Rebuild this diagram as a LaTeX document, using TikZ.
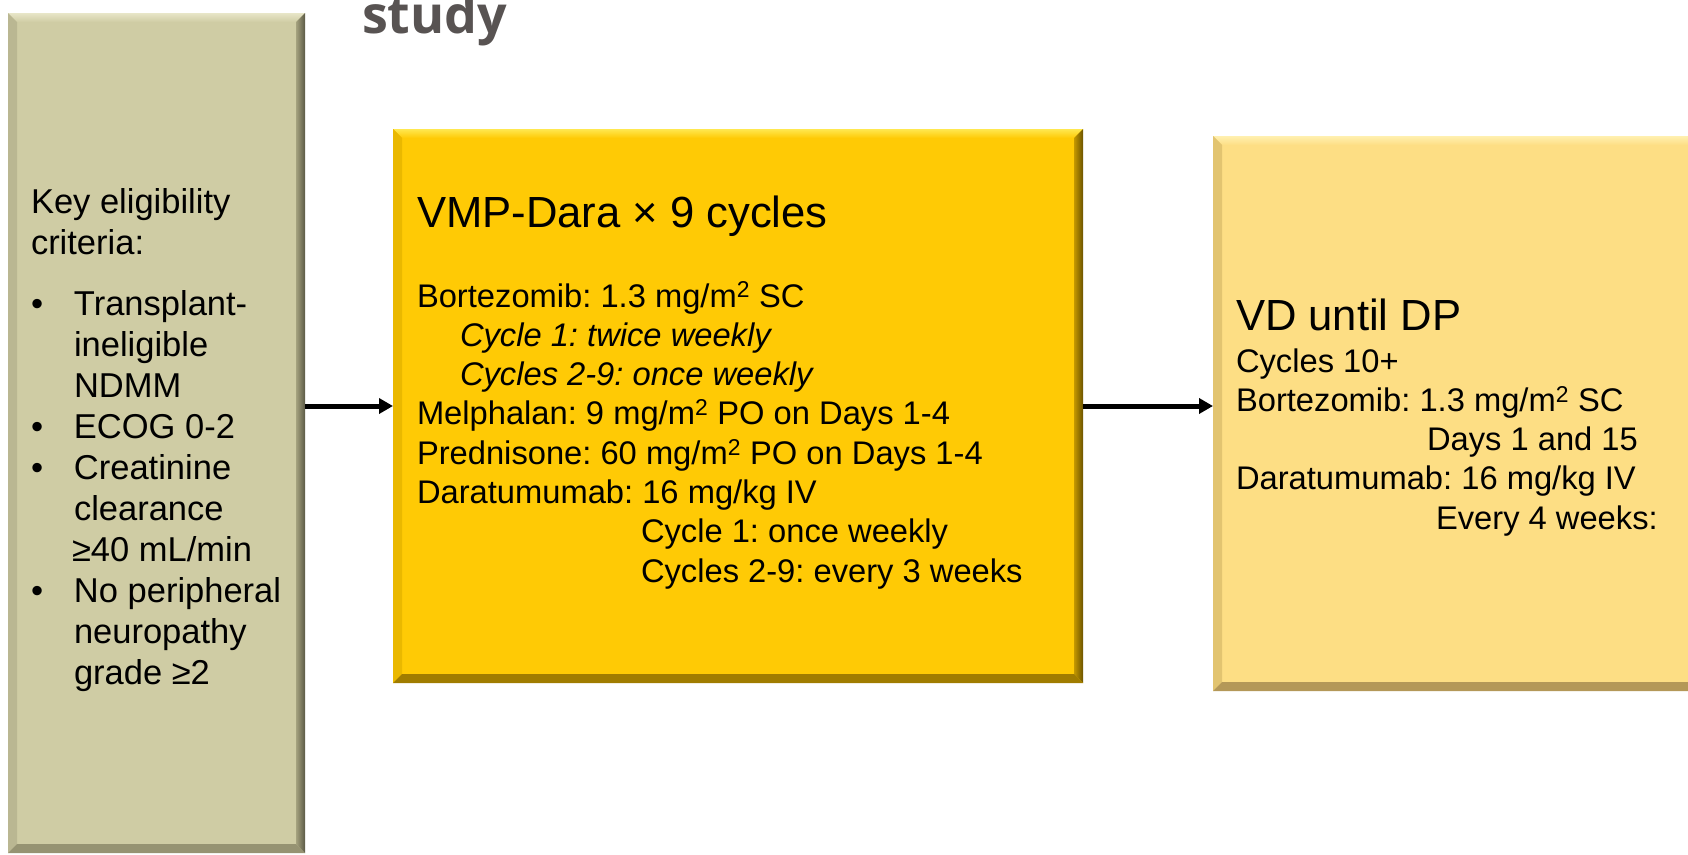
\documentclass[tikz,border=0pt]{standalone}
\usepackage{fontspec}
\setmainfont{Liberation Sans}
\newfontfamily\osfont{Open Sans}
\usetikzlibrary{arrows.meta,calc}
\frenchspacing
\definecolor{lfill}{RGB}{207,204,164}
\definecolor{ltop}{RGB}{232,230,200}
\definecolor{lleft}{RGB}{186,183,146}
\definecolor{lrin}{RGB}{165,162,126}
\definecolor{lrout}{RGB}{92,90,70}
\definecolor{lbot}{RGB}{150,147,114}
\definecolor{mfill}{RGB}{255,202,5}
\definecolor{mtop}{RGB}{255,232,80}
\definecolor{mleft}{RGB}{234,184,0}
\definecolor{mrin}{RGB}{196,152,0}
\definecolor{mrout}{RGB}{108,84,0}
\definecolor{mbot}{RGB}{160,124,0}
\definecolor{rfill}{RGB}{253,222,132}
\definecolor{rtop}{RGB}{255,240,176}
\definecolor{rleft}{RGB}{226,196,112}
\definecolor{rrin}{RGB}{205,176,100}
\definecolor{rrout}{RGB}{150,126,72}
\definecolor{rbot}{RGB}{180,152,88}
\definecolor{titlegray}{RGB}{88,83,82}
\newcommand\mybevel[7]{%
  \shade[top color=#3,bottom color=#2] (#1.north west) -- (#1.north east) -- ($(#1.north east)+(-9,9)$) -- ($(#1.north west)+(9,9)$) -- cycle;
  \fill[#4] (#1.north west) -- ($(#1.north west)+(9,9)$) -- ($(#1.south west)+(9,-9)$) -- (#1.south west) -- cycle;
  \shade[left color=#5,right color=#6] (#1.north east) -- ($(#1.north east)+(-9,9)$) -- ($(#1.south east)+(-9,-9)$) -- (#1.south east) -- cycle;
  \fill[#7] (#1.south west) -- ($(#1.south west)+(9,-9)$) -- ($(#1.south east)+(-9,-9)$) -- (#1.south east) -- cycle;
}
\begin{document}
\begin{tikzpicture}[x=1pt,y=-1pt,
  boxnode/.style={rectangle,draw=none,inner sep=0,outer sep=0},
  txt/.style={anchor=base west,inner sep=0,outer sep=0,text=black},
  conn/.style={line width=5pt,-{Triangle[length=14pt,width=15pt]}}]
\useasboundingbox (0,0) rectangle (1688,854);
\clip (0,0) rectangle (1688,854);
\fill[white] (0,0) rectangle (1688,854);

% boxes
\node[boxnode,fill=lfill,minimum width=297pt,minimum height=840pt] (lbox) at (156.5,433) {};
\mybevel{lbox}{lfill}{ltop}{lleft}{lrin}{lrout}{lbot}
\node[boxnode,fill=mfill,minimum width=690pt,minimum height=554pt] (mbox) at (738,406) {};
\mybevel{mbox}{mfill}{mtop}{mleft}{mrin}{mrout}{mbot}
\node[boxnode,fill=rfill,minimum width=507pt,minimum height=555pt] (rbox) at (1466.5,413.5) {};
\mybevel{rbox}{rfill}{rtop}{rleft}{rrin}{rrout}{rbot}

% title fragment
\node[txt,text=titlegray,font=\osfont\bfseries\fontsize{52}{60}\selectfont] (title) at (362,33) {study};

% left box text
\node[txt,font=\fontsize{34.5}{41}\selectfont] (ltext) at (31,213) {\parbox[t]{280pt}{%
Key eligibility\\
criteria:\\[20pt]
\makebox[43pt][l]{•}Transplant-\\
\hspace*{43pt}ineligible\\
\hspace*{43pt}NDMM\\
\makebox[43pt][l]{•}ECOG 0-2\\
\makebox[43pt][l]{•}Creatinine\\
\hspace*{43pt}clearance\\
\hspace*{41pt}≥40 mL/min\\
\makebox[43pt][l]{•}No peripheral\\
\hspace*{43pt}neuropathy\\
\hspace*{43pt}grade ≥2}};

% middle box text
\node[txt,font=\fontsize{43.6}{50}\selectfont] (mtitle) at (417,227) {VMP-Dara × 9 cycles};
\node[txt,font=\fontsize{32.7}{39.3}\selectfont] (mtext) at (417,307) {\parbox[t]{660pt}{%
Bortezomib: 1.3 mg/m\textsuperscript{2} SC\\
\hspace*{43pt}\textit{Cycle 1: twice weekly}\\
\hspace*{43pt}\textit{Cycles 2-9: once weekly}\\
Melphalan: 9 mg/m\textsuperscript{2} PO on Days 1-4\\
Prednisone: 60 mg/m\textsuperscript{2} PO on Days 1-4\\
Daratumumab: 16 mg/kg IV\\
\hspace*{224pt}Cycle 1: once weekly\\
\hspace*{224pt}Cycles 2-9: every 3 weeks}};

% right box text
\node[txt,font=\fontsize{43.6}{50}\selectfont] (rtitle) at (1236,330) {VD until DP};
\node[txt,font=\fontsize{32.7}{39.3}\selectfont] (rtext) at (1236,372) {\parbox[t]{440pt}{%
Cycles 10+\\
Bortezomib: 1.3 mg/m\textsuperscript{2} SC\\
\hspace*{191pt}Days 1 and 15\\
Daratumumab: 16 mg/kg IV\\
\hspace*{200pt}Every 4 weeks:}};

% connectors
\draw[conn] (lbox.east |- mbox.west) -- (mbox.west);
\draw[conn] (mbox.east) -- (rbox.west |- mbox.east);
\end{tikzpicture}
\end{document}
